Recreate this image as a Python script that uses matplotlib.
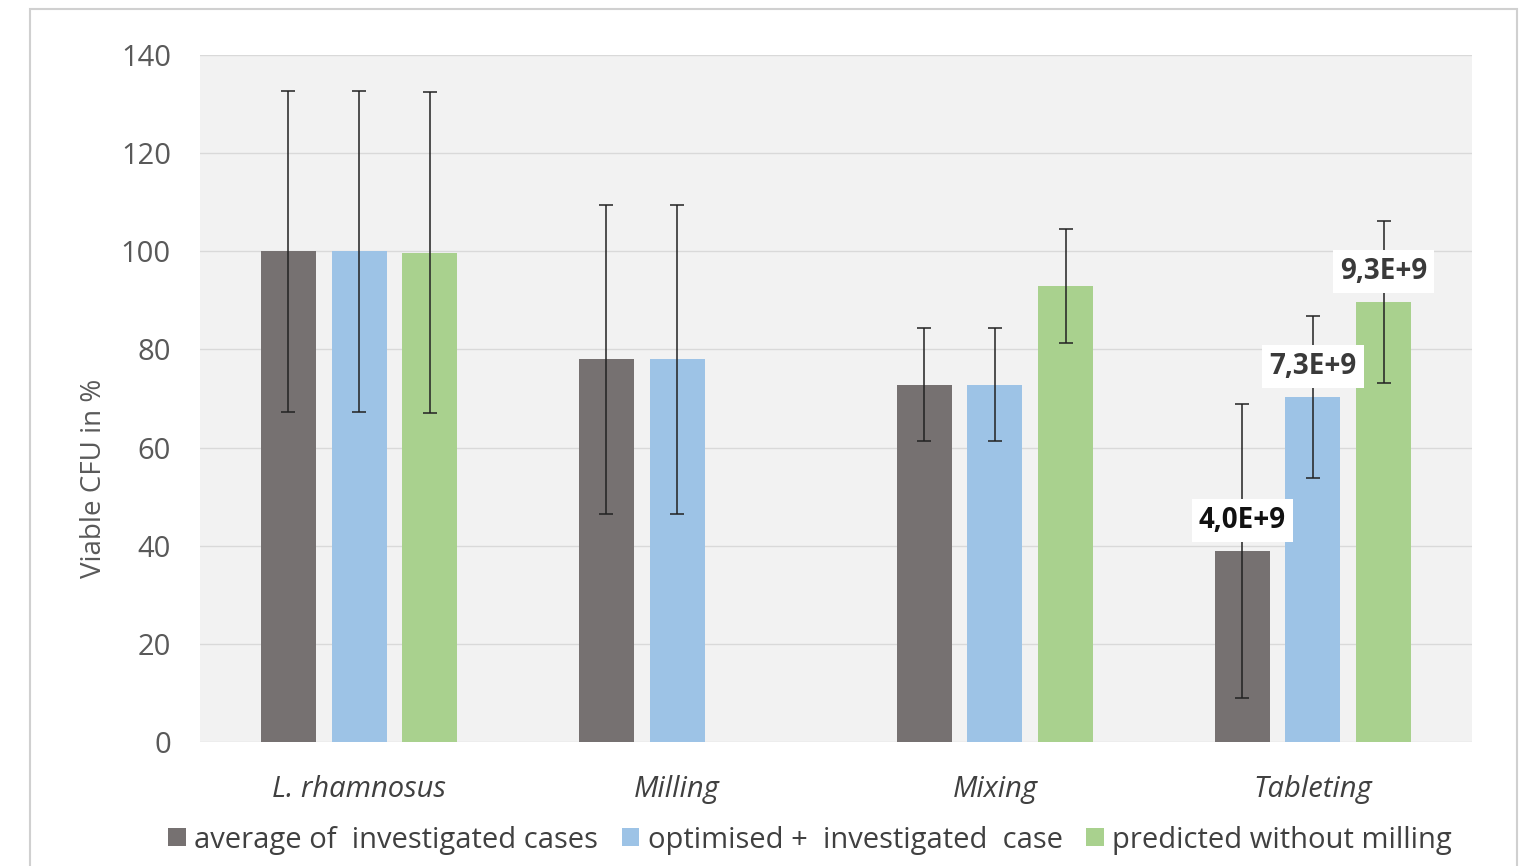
import numpy as np
import matplotlib.pyplot as plt
from matplotlib.patches import Rectangle

plt.rcParams['font.family'] = ['Open Sans', 'DejaVu Sans']

categories = ['L. rhamnosus', 'Milling', 'Mixing', 'Tableting']
series_names = ['average of  investigated cases', 'optimised +  investigated  case', 'predicted without milling']

average = [100, 78, 72.8, 38.9]
average_err = [32.7, 31.5, 11.5, 29.9]
optimised = [100, 78, 72.8, 70.3]
optimised_err = [32.7, 31.5, 11.5, 16.5]
predicted = [99.7, np.nan, 92.9, 89.7]
predicted_err = [32.7, np.nan, 11.6, 16.5]

# labels on the Tableting bars
labels = ['4,0E+9', '7,3E+9', '9,3E+9']

colors = ['#767171', '#9DC3E6', '#A9D18E']

fig = plt.figure(figsize=(15.2, 8.66), dpi=100)
fig.patches.append(Rectangle((0.02, -0.01), 0.978, 1.0, transform=fig.transFigure,
                             fill=False, edgecolor='#d0d0d0', linewidth=1.5))
ax = fig.add_axes([0.1316, 0.1432, 0.8368, 0.7933])
ax.set_facecolor('#F2F2F2')

x = np.arange(len(categories))
offset = 0.222
width = 0.173
all_vals = [average, optimised, predicted]
all_errs = [average_err, optimised_err, predicted_err]
for i, (vals, errs) in enumerate(zip(all_vals, all_errs)):
    xs = x + (i - 1) * offset
    ax.bar(xs, vals, width, color=colors[i], label=series_names[i], zorder=2)
    ax.errorbar(xs, vals, yerr=errs, fmt='none', ecolor='#222222', elinewidth=1.1,
                capsize=5, capthick=1.1, zorder=3)

# data labels on last group
for i, lab in enumerate(labels):
    xs = x[3] + (i - 1) * offset
    ax.text(xs, all_vals[i][3] + 6.2, lab, ha='center', va='center', fontsize=20,
            fontweight='bold', color='#111111' if i == 0 else '#3a3a3a', zorder=4,
            bbox=dict(facecolor='white', edgecolor='none', pad=5))

ax.set_xlim(-0.5, 3.5)
ax.set_ylim(0, 140)
ax.set_yticks(range(0, 141, 20))
ax.yaxis.grid(True, color='#D9D9D9', linewidth=1, zorder=0)
ax.set_axisbelow(True)
for s in ax.spines.values():
    s.set_visible(False)
ax.tick_params(axis='y', length=0, labelsize=21, labelcolor='#595959', pad=21)
ax.tick_params(axis='x', length=0, labelsize=21, labelcolor='#404040', pad=24)
ax.set_xticks(x)
ax.set_xticklabels(categories, style='italic')
ax.set_ylabel('Viable CFU in %', fontsize=20, color='#595959')
ax.yaxis.set_label_coords(-0.072, 0.384)

fig.legend(loc='center', bbox_to_anchor=(0.533, 0.03), ncol=3, frameon=False,
           fontsize=21, labelcolor='#404040', handlelength=0.6, handleheight=0.6,
           handletextpad=0.3, columnspacing=0.8)

fig.savefig('out.png', dpi=100)
